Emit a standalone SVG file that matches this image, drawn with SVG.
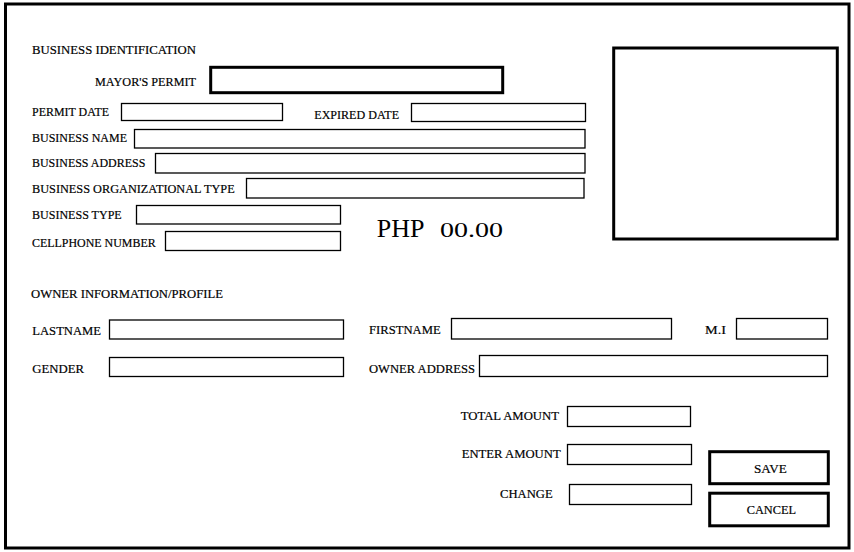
<svg xmlns="http://www.w3.org/2000/svg" width="854" height="552" viewBox="0 0 854 552">
<style>
text{font-family:"Liberation Serif","DejaVu Serif",serif}
.lbl{font-size:13px;fill:#000;stroke:#000;stroke-width:0.2}
.box{fill:#fff;stroke:#000;stroke-width:1.3}
.thick{fill:#fff;stroke:#000;stroke-width:3}
.big{font-size:26px;fill:#000}
</style>
<rect x="0" y="0" width="854" height="552" fill="#fff"/>
<rect id="frame" class="thick" x="5.5" y="4" width="843.5" height="544"/>

<g id="business-identification">
<text class="lbl" x="32" y="54" textLength="164" lengthAdjust="spacingAndGlyphs">BUSINESS IDENTIFICATION</text>
</g>
<g id="mayors-permit">
<text class="lbl" x="95" y="85.7" textLength="101" lengthAdjust="spacingAndGlyphs">MAYOR'S PERMIT</text>
<rect class="thick" x="210.7" y="67.3" width="292" height="25.4"/>
</g>
<g id="permit-date">
<text class="lbl" x="32" y="115.7" textLength="77" lengthAdjust="spacingAndGlyphs">PERMIT DATE</text>
<rect class="box" x="121.5" y="103.5" width="161" height="17"/>
</g>
<g id="expired-date">
<text class="lbl" x="314.3" y="118.7" textLength="84.7" lengthAdjust="spacingAndGlyphs">EXPIRED DATE</text>
<rect class="box" x="411.5" y="103.5" width="174" height="18"/>
</g>
<g id="business-name">
<text class="lbl" x="32" y="141.7" textLength="95" lengthAdjust="spacingAndGlyphs">BUSINESS NAME</text>
<rect class="box" x="134.5" y="129.5" width="450.5" height="18.5"/>
</g>
<g id="business-address">
<text class="lbl" x="32" y="167" textLength="113.3" lengthAdjust="spacingAndGlyphs">BUSINESS ADDRESS</text>
<rect class="box" x="155.5" y="153.5" width="429.5" height="19.5"/>
</g>
<g id="business-org-type">
<text class="lbl" x="32" y="192.7" textLength="202.7" lengthAdjust="spacingAndGlyphs">BUSINESS ORGANIZATIONAL TYPE</text>
<rect class="box" x="246.5" y="178.5" width="337.5" height="19.5"/>
</g>
<g id="business-type">
<text class="lbl" x="32" y="219.3" textLength="89.7" lengthAdjust="spacingAndGlyphs">BUSINESS TYPE</text>
<rect class="box" x="136.5" y="205.5" width="204" height="18.5"/>
</g>
<g id="cellphone-number">
<text class="lbl" x="32" y="247" textLength="123.7" lengthAdjust="spacingAndGlyphs">CELLPHONE NUMBER</text>
<rect class="box" x="165.5" y="231.5" width="175" height="19"/>
</g>
<g id="php-amount">
<text class="big" x="376.7" y="236.7">PHP<tspan x="440" font-size="21" textLength="63" lengthAdjust="spacingAndGlyphs">00.00</tspan></text>
</g>
<g id="photo">
<rect class="thick" x="613.7" y="48" width="223.6" height="191"/>
</g>

<g id="owner-information">
<text class="lbl" x="31" y="298.3" textLength="192" lengthAdjust="spacingAndGlyphs">OWNER INFORMATION/PROFILE</text>
</g>
<g id="lastname">
<text class="lbl" x="32.3" y="335" textLength="68.7" lengthAdjust="spacingAndGlyphs">LASTNAME</text>
<rect class="box" x="109.5" y="320" width="234" height="19"/>
</g>
<g id="gender">
<text class="lbl" x="32.3" y="372.7" textLength="51.7" lengthAdjust="spacingAndGlyphs">GENDER</text>
<rect class="box" x="109.5" y="357.5" width="234" height="19"/>
</g>
<g id="firstname">
<text class="lbl" x="369" y="334.3" textLength="71.7" lengthAdjust="spacingAndGlyphs">FIRSTNAME</text>
<rect class="box" x="451.5" y="318.5" width="220" height="20.5"/>
</g>
<g id="owner-address">
<text class="lbl" x="369" y="373.3" textLength="106" lengthAdjust="spacingAndGlyphs">OWNER ADDRESS</text>
<rect class="box" x="479.5" y="355.5" width="348" height="21"/>
</g>
<g id="mi">
<text class="lbl" x="705" y="334.3" textLength="21" lengthAdjust="spacingAndGlyphs">M.I</text>
<rect class="box" x="736.5" y="318.5" width="91" height="20.5"/>
</g>

<g id="total-amount">
<text class="lbl" x="460.7" y="420" textLength="98.3" lengthAdjust="spacingAndGlyphs">TOTAL AMOUNT</text>
<rect class="box" x="567.5" y="406.5" width="123" height="20"/>
</g>
<g id="enter-amount">
<text class="lbl" x="461.7" y="458.3" textLength="99" lengthAdjust="spacingAndGlyphs">ENTER AMOUNT</text>
<rect class="box" x="567.5" y="444.5" width="124" height="20"/>
</g>
<g id="change">
<text class="lbl" x="500" y="497.7" textLength="52.7" lengthAdjust="spacingAndGlyphs">CHANGE</text>
<rect class="box" x="569.5" y="484.5" width="122" height="20"/>
</g>
<g id="save">
<rect class="thick" x="709.7" y="451.7" width="118.6" height="32"/>
<text class="lbl" x="754" y="473.3" textLength="32.7" lengthAdjust="spacingAndGlyphs">SAVE</text>
</g>
<g id="cancel">
<rect class="thick" x="709.7" y="493.2" width="118.6" height="32.6"/>
<text class="lbl" x="746.7" y="514" textLength="49.3" lengthAdjust="spacingAndGlyphs">CANCEL</text>
</g>
<g id="connectors"></g>
</svg>
